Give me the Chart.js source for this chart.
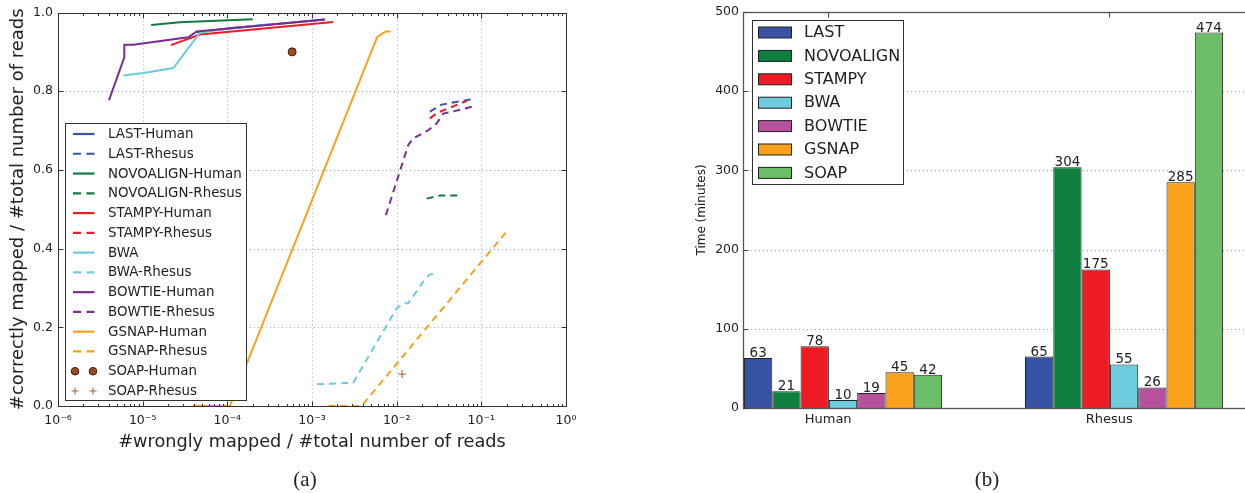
<!DOCTYPE html>
<html><head><meta charset="utf-8">
<script src="https://cdn.jsdelivr.net/npm/chart.js@4/dist/chart.umd.min.js"></script>
<style>
html,body{margin:0;padding:0;background:#fff;overflow:hidden;width:1245px;height:493px;}
#wa{position:absolute;left:0;top:0;width:620px;height:493px;}
#wb{position:absolute;left:620px;top:0;width:645px;height:493px;}
.cap{position:absolute;top:469px;width:60px;text-align:center;line-height:21px;font-family:"Liberation Serif","DejaVu Serif",serif;font-size:21px;color:#222;}
</style></head><body>
<div id="wa"><canvas id="ca" width="620" height="493"></canvas></div>
<div id="wb"><canvas id="cb" width="645" height="493"></canvas></div>
<div class="cap" style="left:275px">(a)</div>
<div class="cap" style="left:957px">(b)</div>
<script>
// ---------- data ----------
const toolNames = ['LAST','NOVOALIGN','STAMPY','BWA','BOWTIE','GSNAP','SOAP'];
const barColors = ['#3953a4','#0e7f3e','#ed1c24','#6ccbdc','#b5519d','#f9a11b','#6cbf66'];
const lineColors = ['#3953a4','#127a3d','#ed1c24','#6ccbdc','#7b2d8e','#f9a11b','#9c4a22'];
const groupLabels = ['Human','Rhesus'];
const humanMinutes = [63,21,78,10,19,45,42];
const rhesusMinutes = [65,304,175,55,26,285,474];
const minutesTicks = [0,100,200,300,400,500];

const seriesLabels = ['LAST-Human','LAST-Rhesus','NOVOALIGN-Human','NOVOALIGN-Rhesus','STAMPY-Human','STAMPY-Rhesus','BWA','BWA-Rhesus','BOWTIE-Human','BOWTIE-Rhesus','GSNAP-Human','GSNAP-Rhesus','SOAP-Human','SOAP-Rhesus'];
const xDecadeLabels = ['10\u207B\u2076','10\u207B\u2075','10\u207B\u2074','10\u207B\u00B3','10\u207B\u00B2','10\u207B\u00B9','10\u2070'];
const xDecades = [1e-6,1e-5,1e-4,1e-3,1e-2,1e-1,1];
const yTicksA = [0,0.2,0.4,0.6,0.8,1.0];

const lastHumanX = [4.35e-5, 1.2e-4, 4.5e-4, 1.42e-3];
const lastHumanY = [0.950, 0.961, 0.972, 0.982];
const lastRhesusX = [0.0247, 0.0339, 0.080];
const lastRhesusY = [0.748, 0.766, 0.780];
const novoHumanX = [1.26e-5, 2.75e-5, 2.0e-4];
const novoHumanY = [0.968, 0.975, 0.983];
const novoRhesusX = [0.0226, 0.0324, 0.0547];
const novoRhesusY = [0.527, 0.535, 0.535];
const stampyHumanX = [2.16e-5, 4.74e-5, 1.78e-3];
const stampyHumanY = [0.917, 0.944, 0.976];
const stampyRhesusX = [0.0247, 0.0301, 0.0668];
const stampyRhesusY = [0.731, 0.745, 0.775];
const bwaHumanX = [5.9e-6, 1.02e-5, 2.30e-5, 4.74e-5, 3.0e-4];
const bwaHumanY = [0.840, 0.846, 0.859, 0.949, 0.970];
const bwaRhesusX = [1.15e-3, 3.06e-3, 9.97e-3, 0.01195, 0.01368, 0.0206, 0.0247, 0.0277];
const bwaRhesusY = [0.055, 0.059, 0.248, 0.261, 0.261, 0.316, 0.335, 0.335];
const bowtieHumanX = [4.0e-6, 6.07e-6, 6.07e-6, 7.74e-6, 3.45e-5, 4.35e-5, 1.42e-3];
const bowtieHumanY = [0.777, 0.886, 0.918, 0.918, 0.937, 0.952, 0.982];
const bowtieRhesusX = [7.46e-3, 0.01368, 0.01567, 0.0236, 0.0296, 0.0354, 0.0547, 0.0815];
const bowtieRhesusY = [0.485, 0.663, 0.680, 0.701, 0.718, 0.743, 0.752, 0.762];
const gsnapHumanX = [3.9e-5, 1.07e-4, 5.89e-3, 7.46e-3, 8.48e-3];
const gsnapHumanY = [0, 0, 0.938, 0.952, 0.952];
const gsnapRhesusX = [1.55e-3, 3.85e-3, 0.198];
const gsnapRhesusY = [0, 0, 0.443];
const soapHumanX = [5.83e-4];
const soapHumanY = [0.900];
const soapRhesusX = [0.0116];
const soapRhesusY = [0.081];

// ---------- helpers ----------
const FONT = "'DejaVu Sans', 'Liberation Sans', sans-serif";
const pts = (xs, ys) => xs.map((x, i) => ({x, y: ys[i]}));
const seriesXY = [
  [lastHumanX,lastHumanY],[lastRhesusX,lastRhesusY],
  [novoHumanX,novoHumanY],[novoRhesusX,novoRhesusY],
  [stampyHumanX,stampyHumanY],[stampyRhesusX,stampyRhesusY],
  [bwaHumanX,bwaHumanY],[bwaRhesusX,bwaRhesusY],
  [bowtieHumanX,bowtieHumanY],[bowtieRhesusX,bowtieRhesusY],
  [gsnapHumanX,gsnapHumanY],[gsnapRhesusX,gsnapRhesusY],
  [soapHumanX,soapHumanY],[soapRhesusX,soapRhesusY]
];
const DASH = [7,5];

const datasetsA = seriesLabels.map((label, i) => {
  const tool = Math.floor(i / 2);
  const rhesus = i % 2 === 1;
  const color = lineColors[tool];
  const base = {label, data: pts(seriesXY[i][0], seriesXY[i][1]), order: -i, borderColor: color, backgroundColor: color};
  if (tool === 6) {
    if (!rhesus) return Object.assign(base, {showLine:false, pointRadius:4, pointStyle:'circle', backgroundColor:color, borderColor:'#3a1c0c', borderWidth:1});
    return Object.assign(base, {showLine:false, pointRadius:4, pointStyle:'cross', borderColor:'#b5562b', borderWidth:1});
  }
  return Object.assign(base, {showLine:true, pointRadius:0, borderWidth:2, tension:0, borderDash: rhesus ? DASH : [], fill:false});
});

// ---------- left chart plugin ----------
const decorA = {
  id: 'decorA',
  beforeDatasetsDraw(chart) {
    const {ctx, chartArea: a, scales: {x, y}} = chart;
    ctx.save();
    ctx.strokeStyle = '#a8a8a8'; ctx.lineWidth = 1; ctx.setLineDash([1,3]);
    xDecades.slice(1, -1).forEach(v => {
      const px = Math.round(x.getPixelForValue(v)) + 0.5;
      ctx.beginPath(); ctx.moveTo(px, a.top); ctx.lineTo(px, a.bottom); ctx.stroke();
    });
    yTicksA.slice(1, -1).forEach(v => {
      const py = Math.round(y.getPixelForValue(v)) + 0.5;
      ctx.beginPath(); ctx.moveTo(a.left, py); ctx.lineTo(a.right, py); ctx.stroke();
    });
    ctx.restore();
  },
  afterDraw(chart) {
    const {ctx, chartArea: a, scales: {x, y}} = chart;
    ctx.save();
    ctx.strokeStyle = '#333'; ctx.lineWidth = 1; ctx.setLineDash([]);
    const L = Math.round(a.left) + 0.5, R = Math.round(a.right) + 0.5, T = Math.round(a.top) + 0.5, B = Math.round(a.bottom) + 0.5;
    ctx.strokeRect(L, T, R - L, B - T);
    ctx.beginPath();
    xDecades.forEach((v, i) => {
      const px = Math.round(x.getPixelForValue(v)) + 0.5;
      ctx.moveTo(px, B); ctx.lineTo(px, B - 5);
      ctx.moveTo(px, T); ctx.lineTo(px, T + 5);
      if (i < xDecades.length - 1) {
        for (let k = 2; k <= 9; k++) {
          const mx = Math.round(x.getPixelForValue(v * k)) + 0.5;
          ctx.moveTo(mx, B); ctx.lineTo(mx, B - 2.5);
          ctx.moveTo(mx, T); ctx.lineTo(mx, T + 2.5);
        }
      }
    });
    yTicksA.forEach(v => {
      const py = Math.round(y.getPixelForValue(v)) + 0.5;
      ctx.moveTo(L, py); ctx.lineTo(L + 5, py);
      ctx.moveTo(R, py); ctx.lineTo(R - 5, py);
    });
    ctx.stroke();

    // legend
    const bx = 65.5, by = 123.5, bw = 181, bh = 277;
    ctx.fillStyle = '#fff'; ctx.fillRect(bx, by, bw, bh);
    ctx.strokeStyle = '#333'; ctx.strokeRect(bx, by, bw, bh);
    ctx.font = '13.4px ' + FONT; ctx.textBaseline = 'middle'; ctx.textAlign = 'left';
    chart.data.datasets.forEach((ds, i) => {
      const cy = 134 + i * 19.77;
      const tool = Math.floor(i / 2);
      const rhesus = i % 2 === 1;
      if (tool === 6) {
        [75, 93].forEach(cx => {
          if (!rhesus) {
            ctx.beginPath(); ctx.arc(cx, cy, 3.8, 0, Math.PI * 2);
            ctx.fillStyle = ds.backgroundColor; ctx.fill();
            ctx.strokeStyle = '#3a1c0c'; ctx.lineWidth = 1; ctx.stroke();
          } else {
            ctx.strokeStyle = ds.borderColor; ctx.lineWidth = 1;
            ctx.beginPath(); ctx.moveTo(cx - 3.5, cy); ctx.lineTo(cx + 3.5, cy);
            ctx.moveTo(cx, cy - 3.5); ctx.lineTo(cx, cy + 3.5); ctx.stroke();
          }
        });
      } else {
        ctx.strokeStyle = ds.borderColor; ctx.lineWidth = 2.2;
        ctx.setLineDash(rhesus ? [8, 5.5] : []);
        ctx.beginPath(); ctx.moveTo(73, cy); ctx.lineTo(94.5, cy); ctx.stroke();
        ctx.setLineDash([]);
      }
      ctx.fillStyle = '#222';
      ctx.fillText(ds.label, 108, cy + 0.5);
    });
    ctx.restore();
  }
};

new Chart(document.getElementById('ca'), {
  type: 'scatter',
  data: {datasets: datasetsA},
  options: {
    responsive: false, animation: false, devicePixelRatio: 1, events: [],
    layout: {padding: {left: 4, top: 12, right: 54, bottom: 36}},
    plugins: {legend: {display: false}, tooltip: {enabled: false}},
    scales: {
      x: {
        type: 'logarithmic', min: 1e-6, max: 1,
        grid: {display: false, drawTicks: false}, border: {display: false},
        afterBuildTicks: s => { s.ticks = xDecades.map(v => ({value: v, major: true})); },
        afterFit: s => { s.height = 51; },
        ticks: {autoSkip: false, maxRotation: 0, padding: 7, color: '#222', font: {family: FONT, size: 12.5},
          callback: (v, i) => xDecadeLabels[i]},
        title: {display: true, text: '#wrongly mapped / #total number of reads', color: '#222', font: {family: FONT, size: 17.7}}
      },
      y: {
        type: 'linear', min: 0, max: 1,
        grid: {display: false, drawTicks: false}, border: {display: false},
        afterBuildTicks: s => { s.ticks = yTicksA.map(v => ({value: v})); },
        afterFit: s => { s.width = 54; },
        ticks: {padding: 5, color: '#222', font: {family: FONT, size: 12.5}, callback: v => Number(v).toFixed(1)},
        title: {display: true, text: '#correctly mapped / #total number of reads', color: '#222', font: {family: FONT, size: 18}}
      }
    }
  },
  plugins: [decorA]
});

// ---------- right chart ----------
const LABEL_SHIFT = -0.053;
const datasetsB = toolNames.map((name, i) => ({
  label: name,
  data: [{x: 0, y: humanMinutes[i]}, {x: 1, y: rhesusMinutes[i]}],
  backgroundColor: barColors[i], borderColor: '#222', borderWidth: 1,
  barPercentage: 1, categoryPercentage: 0.705
}));

const decorB = {
  id: 'decorB',
  beforeDatasetsDraw(chart) {
    const {ctx, chartArea: a, scales: {y}} = chart;
    ctx.save();
    ctx.strokeStyle = '#a8a8a8'; ctx.lineWidth = 1; ctx.setLineDash([1,3]);
    minutesTicks.slice(1, -1).forEach(v => {
      const py = Math.round(y.getPixelForValue(v)) + 0.5;
      ctx.beginPath(); ctx.moveTo(a.left, py); ctx.lineTo(a.right, py); ctx.stroke();
    });
    ctx.restore();
  },
  afterDatasetsDraw(chart) {
    const {ctx} = chart;
    ctx.save();
    ctx.font = '13.5px ' + FONT; ctx.fillStyle = '#222'; ctx.textAlign = 'center'; ctx.textBaseline = 'alphabetic';
    chart.data.datasets.forEach((ds, di) => {
      const meta = chart.getDatasetMeta(di);
      meta.data.forEach((el, j) => { ctx.fillText(String(ds.data[j].y), el.x, el.y - 1); });
    });
    ctx.restore();
  },
  afterDraw(chart) {
    const {ctx, chartArea: a, scales: {x, y}} = chart;
    ctx.save();
    const L = Math.round(a.left) + 0.5, R = Math.round(a.right) + 0.5, T = Math.round(a.top) + 0.5, B = Math.round(a.bottom) + 0.5;
    ctx.strokeStyle = '#555'; ctx.lineWidth = 1.3;
    ctx.strokeRect(L, T, R - L, B - T);
    ctx.lineWidth = 1; ctx.strokeStyle = '#444';
    ctx.beginPath();
    minutesTicks.forEach(v => {
      const py = Math.round(y.getPixelForValue(v)) + 0.5;
      ctx.moveTo(L, py); ctx.lineTo(L + 5, py);
      ctx.moveTo(R, py); ctx.lineTo(R - 5, py);
    });
    x.ticks.forEach(t => {
      const px = Math.round(x.getPixelForValue(t.value)) + 0.5;
      ctx.moveTo(px, T); ctx.lineTo(px, T + 5);
    });
    ctx.stroke();

    // legend
    const bx = 132.5, by = 20.5, bw = 151, bh = 164;
    ctx.fillStyle = '#fff'; ctx.fillRect(bx, by, bw, bh);
    ctx.strokeStyle = '#333'; ctx.lineWidth = 1; ctx.strokeRect(bx, by, bw, bh);
    ctx.font = '16px ' + FONT; ctx.textBaseline = 'middle'; ctx.textAlign = 'left';
    chart.data.datasets.forEach((ds, i) => {
      const cy = 32.5 + i * 23.4;
      ctx.fillStyle = ds.backgroundColor;
      ctx.fillRect(138.5, cy - 5.5, 33, 11);
      ctx.strokeStyle = '#222'; ctx.strokeRect(138.5, cy - 5.5, 33, 11);
      ctx.fillStyle = '#222';
      ctx.fillText(ds.label, 184, cy + 0.5);
    });
    ctx.restore();
  }
};

new Chart(document.getElementById('cb'), {
  type: 'bar',
  data: {datasets: datasetsB},
  options: {
    responsive: false, animation: false, devicePixelRatio: 1, events: [],
    layout: {padding: {left: 71, top: 12, right: 10, bottom: 55}},
    plugins: {legend: {display: false}, tooltip: {enabled: false}},
    scales: {
      x: {
        type: 'linear', min: -0.356, max: 1.466, offset: false,
        grid: {display: false, drawTicks: false, offset: false}, border: {display: false},
        afterBuildTicks: s => { s.ticks = groupLabels.map((_, i) => ({value: i + LABEL_SHIFT})); },
        afterFit: s => { s.height = 30; },
        ticks: {autoSkip: false, maxRotation: 0, padding: 4, color: '#222', font: {family: FONT, size: 13},
          callback: (v, i) => groupLabels[i]}
      },
      y: {
        type: 'linear', min: 0, max: 500,
        grid: {display: false, drawTicks: false}, border: {display: false},
        afterBuildTicks: s => { s.ticks = minutesTicks.map(v => ({value: v})); },
        afterFit: s => { s.width = 52; },
        ticks: {padding: 4, color: '#222', font: {family: FONT, size: 12.5}},
        title: {display: true, text: 'Time (minutes)', color: '#222', font: {family: FONT, size: 12}}
      }
    }
  },
  plugins: [decorB]
});
</script>
</body></html>
